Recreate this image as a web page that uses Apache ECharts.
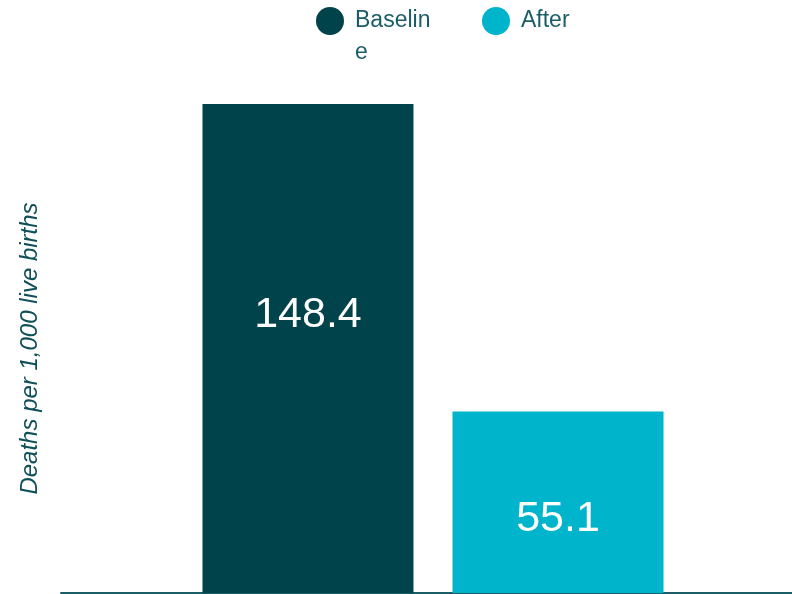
<!DOCTYPE html>
<html>
<head>
<meta charset="utf-8">
<script src="https://cdn.jsdelivr.net/npm/echarts@6/dist/echarts.min.js"></script>
<style>html,body{margin:0;padding:0;background:#fff}#c{width:792px;height:594px}</style>
</head>
<body>
<div id="c"></div>
<script>
const categories = ['Under-five mortality'];
const seriesNames = ['Baseline', 'After'];
const baselineValues = [148.4];
const afterValues = [55.1];
const yAxisTitle = 'Deaths per 1,000 live births';

const chart = echarts.init(document.getElementById('c'), null, {renderer: 'canvas'});
const labelFont = "'Liberation Sans', Arial, sans-serif";
chart.setOption({
  animation: false,
  backgroundColor: '#ffffff',
  legend: {
    top: -32,
    left: 311,
    icon: 'circle',
    itemWidth: 28,
    itemHeight: 28,
    itemGap: 47,
    formatter: function (name) { return name === seriesNames[0] ? '\n' + name : name; },
    textStyle: {
      fontFamily: "'Liberation Sans', Arial, sans-serif",
      fontSize: 23,
      color: '#1b5d66',
      width: 80,
      overflow: 'breakAll',
      lineHeight: 32,
      padding: [0, 0, 0, 6]
    },
    data: seriesNames
  },
  grid: {left: 61, right: -13, top: 104, bottom: 1, outerBoundsMode: 'none'},
  xAxis: {
    type: 'category',
    data: categories,
    axisLine: {show: true, lineStyle: {color: '#1c5e66', width: 2}},
    axisTick: {show: false},
    axisLabel: {show: false}
  },
  yAxis: {
    type: 'value',
    min: 0,
    max: Math.max(...baselineValues, ...afterValues),
    name: yAxisTitle,
    nameLocation: 'middle',
    nameGap: 19,
    nameTextStyle: {
      fontFamily: "'Liberation Sans', Arial, sans-serif",
      fontStyle: 'italic',
      fontSize: 24,
      color: '#0f4f58'
    },
    axisLine: {show: false},
    axisTick: {show: false},
    axisLabel: {show: false},
    splitLine: {show: false}
  },
  series: [
    {
      name: seriesNames[0],
      type: 'bar',
      data: baselineValues,
      barWidth: 211,
      barGap: '18.5%',
      itemStyle: {color: '#01434a'},
      label: {show: true, position: 'inside', offset: [0, -33], color: '#ffffff', fontSize: 43, fontFamily: labelFont}
    },
    {
      name: seriesNames[1],
      type: 'bar',
      data: afterValues,
      barWidth: 211,
      itemStyle: {color: '#00b4cb'},
      label: {show: true, position: 'inside', offset: [0, 17], color: '#ffffff', fontSize: 43, fontFamily: labelFont}
    }
  ]
});
</script>
</body>
</html>
